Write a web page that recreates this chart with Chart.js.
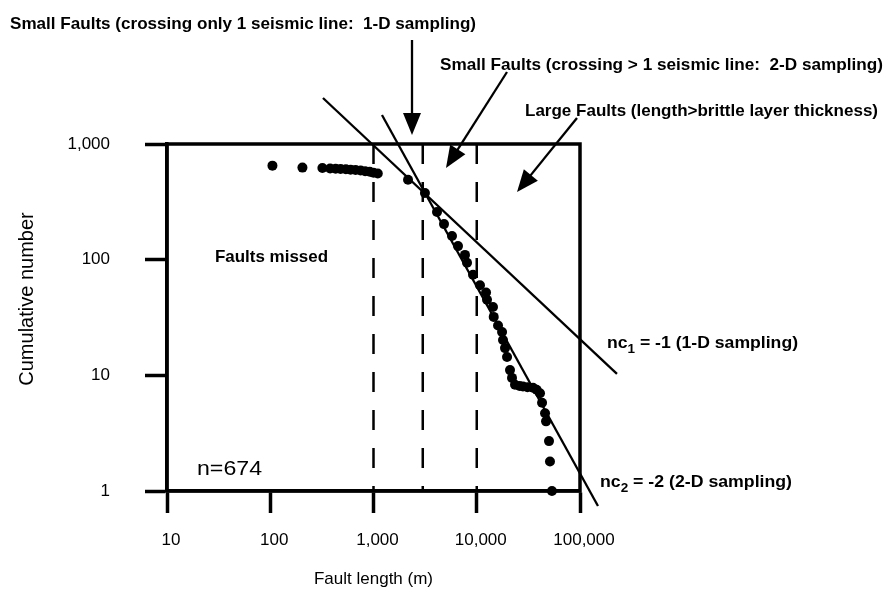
<!DOCTYPE html>
<html><head><meta charset="utf-8">
<script src="https://cdn.jsdelivr.net/npm/chart.js@4.4.0/dist/chart.umd.min.js"></script>
<style>html,body{margin:0;padding:0;background:#fff}canvas{display:block}</style>
</head><body>
<canvas id="c" width="884" height="597"></canvas>
<script>
// ---- data ----
const faultLength = [105, 205, 320, 380, 430, 480, 540, 600, 670, 750, 830, 920, 1000, 1100, 2160, 3150, 4120, 4820, 5760, 6580, 7690, 8050, 9200, 10750, 12300, 12570, 14360, 14600, 16070, 17580, 17960, 18790, 19650, 21000, 21950, 23470, 26000, 28040, 31000, 35070, 38000, 41000, 42900, 45850, 46900, 50100, 51200, 53500];
const cumulativeNumber = [650, 625, 620, 615, 612, 608, 604, 600, 596, 590, 582, 575, 565, 555, 490, 377, 258, 203, 160, 131, 110, 94, 74, 60, 52, 45, 39, 32, 27, 23.7, 20.2, 17.2, 14.4, 11.1, 9.5, 8.3, 8.1, 8.0, 7.9, 7.8, 7.5, 7.0, 5.8, 4.7, 4.0, 2.7, 1.8, 1.0];
const xTicks = [10, 100, 1000, 10000, 100000];
const xTickLabels = ['10', '100', '1,000', '10,000', '100,000'];
const yTicks = [1, 10, 100, 1000];
const yTickLabels = ['1', '10', '100', '1,000'];
const samplingLimits = [1000, 3000, 10000];
const fit1DLength = [324, 228000];
const fit1DNumber = [2500, 10.3];
const fit2DLength = [1208, 149300];
const fit2DNumber = [1782, 0.741];
// annotation arrows (data coordinates: [fromX, fromY, toX, toY])
const arrow1D = [2360, 7930, 2360, 1196];
const arrow2D = [19630, 4193, 5035, 620];
const arrowLarge = [93500, 1678, 24550, 384];

const FONT = '"Liberation Sans", Arial, Helvetica, sans-serif';

const points = faultLength.map((x, i) => ({x, y: cumulativeNumber[i]}));
const lineDs = (xs, ys) => xs.map((x, i) => ({x, y: ys[i]}));

const datasets = [];
samplingLimits.forEach(v => {
  datasets.push({
    type: 'scatter', showLine: true, data: [{x: v, y: yTicks[yTicks.length - 1]}, {x: v, y: yTicks[0]}],
    borderColor: '#000', borderWidth: 2.5, borderDash: [20, 18], pointRadius: 0, clip: false
  });
});
datasets.push({type: 'scatter', showLine: true, data: lineDs(fit1DLength, fit1DNumber),
  borderColor: '#000', borderWidth: 2.3, pointRadius: 0, clip: false});
datasets.push({type: 'scatter', showLine: true, data: lineDs(fit2DLength, fit2DNumber),
  borderColor: '#000', borderWidth: 2.3, pointRadius: 0, clip: false});
datasets.push({type: 'scatter', data: points, pointRadius: 5, pointBackgroundColor: '#000',
  pointBorderWidth: 0, borderColor: '#000', clip: false});

function fitText(ctx, parts, x, y, w) {
  ctx.save();
  let total = 0;
  parts.forEach(p => { ctx.font = p.font; p.w = ctx.measureText(p.t).width; total += p.w; });
  const sx = w / total;
  ctx.translate(x, y);
  ctx.scale(sx, 1);
  ctx.fillStyle = '#000';
  ctx.textAlign = 'left';
  ctx.textBaseline = 'alphabetic';
  let cx = 0;
  parts.forEach(p => { ctx.font = p.font; ctx.fillText(p.t, cx, p.dy || 0); cx += p.w; });
  ctx.restore();
}

function drawArrow(ctx, xs, ys, a) {
  const x1 = xs.getPixelForValue(a[0]), y1 = ys.getPixelForValue(a[1]);
  const x2 = xs.getPixelForValue(a[2]), y2 = ys.getPixelForValue(a[3]);
  const ang = Math.atan2(y2 - y1, x2 - x1);
  const L = 22, H = 9;
  ctx.save();
  ctx.strokeStyle = '#000'; ctx.fillStyle = '#000'; ctx.lineWidth = 2.3;
  ctx.beginPath();
  ctx.moveTo(x1, y1);
  ctx.lineTo(x2 - Math.cos(ang) * L * 0.8, y2 - Math.sin(ang) * L * 0.8);
  ctx.stroke();
  ctx.beginPath();
  ctx.moveTo(x2, y2);
  ctx.lineTo(x2 - Math.cos(ang) * L - Math.sin(ang) * H, y2 - Math.sin(ang) * L + Math.cos(ang) * H);
  ctx.lineTo(x2 - Math.cos(ang) * L + Math.sin(ang) * H, y2 - Math.sin(ang) * L - Math.cos(ang) * H);
  ctx.closePath();
  ctx.fill();
  ctx.restore();
}

const annot = {
  id: 'annot',
  afterDraw(chart) {
    const ctx = chart.ctx, a = chart.chartArea;
    const xs = chart.scales.x, ys = chart.scales.y;
    // frame
    ctx.save();
    ctx.strokeStyle = '#000'; ctx.lineWidth = 3.5;
    ctx.strokeRect(a.left, a.top, a.right - a.left, a.bottom - a.top);
    ctx.restore();
    // arrows
    drawArrow(ctx, xs, ys, arrow1D);
    drawArrow(ctx, xs, ys, arrow2D);
    drawArrow(ctx, xs, ys, arrowLarge);
    const B = 'bold 17px ' + FONT;
    fitText(ctx, [{t: 'Small Faults (crossing only 1 seismic line:  1-D sampling)', font: B}], 10, 29, 466);
    fitText(ctx, [{t: 'Small Faults (crossing > 1 seismic line:  2-D sampling)', font: B}], 440, 70, 443);
    fitText(ctx, [{t: 'Large Faults (length>brittle layer thickness)', font: B}], 525, 116, 353);
    fitText(ctx, [{t: 'Faults missed', font: B}], 215, 262, 113);
    fitText(ctx, [{t: 'n=674', font: '20px ' + FONT}], 197, 475, 65);
    const N = 'bold 17px ' + FONT, S = 'bold 13px ' + FONT;
    fitText(ctx, [{t: 'nc', font: N}, {t: '1', font: S, dy: 5}, {t: ' = -1 (1-D sampling)', font: N}], 607, 348, 191);
    fitText(ctx, [{t: 'nc', font: N}, {t: '2', font: S, dy: 5}, {t: ' = -2 (2-D sampling)', font: N}], 600, 487, 192);
    // y title
    ctx.save();
    ctx.translate(27, 299);
    ctx.rotate(-Math.PI / 2);
    ctx.font = '20px ' + FONT;
    ctx.fillStyle = '#000';
    ctx.textAlign = 'center';
    ctx.textBaseline = 'middle';
    ctx.fillText('Cumulative number', 0, 0);
    ctx.restore();
  }
};

new Chart(document.getElementById('c'), {
  type: 'scatter',
  data: {datasets},
  plugins: [annot],
  options: {
    responsive: false,
    animation: false,
    devicePixelRatio: 1,
    layout: {padding: {top: 144, right: 304, left: 0, bottom: 0}},
    plugins: {legend: {display: false}, tooltip: {enabled: false}},
    scales: {
      x: {
        type: 'logarithmic', min: 10, max: 100000,
        afterBuildTicks: s => { s.ticks = xTicks.map(v => ({value: v})); },
        afterFit: s => { s.height = 106; },
        ticks: {
          callback: (v) => xTickLabels[xTicks.indexOf(v)],
          color: '#000', font: {family: FONT, size: 17}, padding: 17, labelOffset: 4,
          maxRotation: 0, autoSkip: false
        },
        grid: {drawOnChartArea: false, drawTicks: true, tickLength: 22, tickWidth: 3.5, tickColor: '#000'},
        border: {display: true, width: 3.5, color: '#000'},
        title: {display: true, text: 'Fault length (m)', color: '#000', font: {family: FONT, size: 17}, padding: {top: 0, bottom: 7}}
      },
      y: {
        type: 'logarithmic', min: 1, max: 1000,
        afterBuildTicks: s => { s.ticks = yTicks.map(v => ({value: v})); },
        afterFit: s => { s.width = 167; },
        ticks: {
          callback: (v) => yTickLabels[yTicks.indexOf(v)],
          color: '#000', font: {family: FONT, size: 17}, padding: 35, autoSkip: false
        },
        grid: {drawOnChartArea: false, drawTicks: true, tickLength: 22, tickWidth: 3.5, tickColor: '#000'},
        border: {display: true, width: 3.5, color: '#000'}
      }
    }
  }
});
</script>
</body></html>
